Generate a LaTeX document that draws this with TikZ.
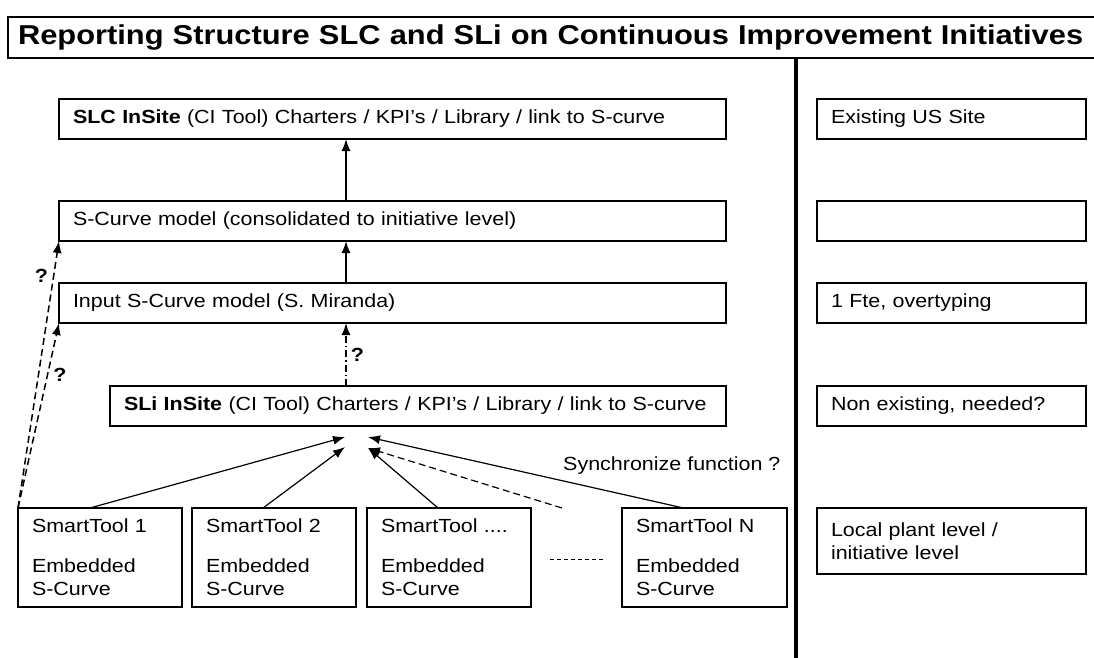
\documentclass[tikz,border=0pt]{standalone}
\usepackage{fontspec}
\setmainfont{Liberation Sans}[FakeStretch=1.13]
\usepackage{tikz}
\usetikzlibrary{arrows.meta,positioning,calc}
\tikzstyle{block} = [draw, rectangle, line width=1.2pt, anchor=north west, inner xsep=14pt, inner ysep=0pt,
    outer sep=0pt, minimum height=40pt, align=left, text=black]
\tikzstyle{tool} = [block, minimum height=99pt, text width=136pt]
\tikzstyle{side} = [block, text width=241pt]
\tikzstyle{arr} = [draw, line width=1.5pt, ->]
\tikzstyle{feed} = [draw, line width=1.2pt, ->]
\tikzstyle{ask} = [draw, line width=1.5pt, dash pattern=on 7pt off 4pt, ->]
\tikzstyle{qmark} = [font=\bfseries, inner sep=0pt]

\begin{document}
\begin{tikzpicture}[x=1pt, y=-1pt, >={Latex[length=12pt,width=9pt]}] \fontsize{19pt}{23pt}\selectfont
    \useasboundingbox (0,0) rectangle (1094,658);
    \node at (8,17) [block, name=title, minimum height=41pt, text width=1100pt, inner xsep=10pt,
        font=\fontsize{27.3pt}{30pt}\selectfont\bfseries] {Reporting Structure SLC and SLi on Continuous Improvement Initiatives};
    \coordinate (base) at (796,658);
    \draw [line width=4pt] (title.south -| base) -- (base);

    \node at (59,99) [block, name=slc, text width=639pt] {\textbf{SLC InSite} (CI Tool) Charters / KPI’s / Library / link to S-curve};
    \node [block, below=62pt of slc.south west, anchor=north west, text width=639pt] (scm) {S-Curve model (consolidated to initiative level)};
    \node [block, below=42pt of scm.south west, anchor=north west, text width=639pt] (inp) {Input S-Curve model (S. Miranda)};
    \node [block, below=63pt of inp.south west, anchor=north west, xshift=51pt, text width=588pt] (sli) {\textbf{SLi InSite} (CI Tool) Charters / KPI’s / Library / link to S-curve};

    \node [side, right=91pt of slc.north east, anchor=north west] (r1) {Existing US Site};
    \node [side, right=91pt of scm.north east, anchor=north west] (r2) {};
    \node [side, right=91pt of inp.north east, anchor=north west] (r3) {1 Fte, overtyping};
    \node [side, right=91pt of sli.north east, anchor=north west] (r4) {Non existing, needed?};

	\node at (18,508) [tool, name=st1] {SmartTool 1\\[17pt]Embedded\\S-Curve};
	\node [tool, right=10pt of st1.north east, anchor=north west] (st2) {SmartTool 2\\[17pt]Embedded\\S-Curve};
	\node [tool, right=11pt of st2.north east, anchor=north west] (st3) {SmartTool ....\\[17pt]Embedded\\S-Curve};
	\node [tool, right=91pt of st3.north east, anchor=north west, text width=137pt] (stn) {SmartTool N\\[17pt]Embedded\\S-Curve};
	\node [side, right=30pt of stn.north east, anchor=north west, minimum height=66pt] (r5) {Local plant level /\\initiative level};

	\coordinate (dl) at (550,559);
	\coordinate (dr) at (603,559);
	\draw [line width=1pt, dash pattern=on 4pt off 3pt] (dl) -- (dr);

	\coordinate (spine) at (346,0);
	\draw [arr] (scm.north -| spine) -- (slc.south -| spine);
	\draw [arr] (inp.north -| spine) -- (scm.south -| spine);
	\draw [arr, dash pattern=on 7pt off 3pt on 1.5pt off 3pt] (sli.north -| spine) -- node [qmark, right=4pt] {?} (inp.south -| spine);

	\draw [ask] (st1.north west) -- node [qmark, pos=0.87, left=5pt] {?} (scm.south west);
	\draw [ask] (st1.north west) -- node [qmark, pos=0.72, right=5pt] {?} (inp.south west);

	\coordinate (p1) at (345,437);
	\coordinate (p2) at (345,447);
	\coordinate (q1) at (368,437);
	\coordinate (q2) at (368,448);
	\coordinate (syncfrom) at (562,508);
	\draw [feed] ($(st1.north)+(-10,0)$) -- (p1);
	\draw [feed] ($(st2.north)+(-11,0)$) -- (p2);
	\draw [feed] ($(st3.north)+(-11,0)$) -- (q2);
	\draw [feed] ($(stn.north)+(-21,0)$) -- (q1);
	\draw [feed, dash pattern=on 7pt off 4pt] (syncfrom) -- (q2);
	\node at (563,466) [anchor=west, inner sep=0pt] (sync) {Synchronize function ?};

\end{tikzpicture}
\end{document}
